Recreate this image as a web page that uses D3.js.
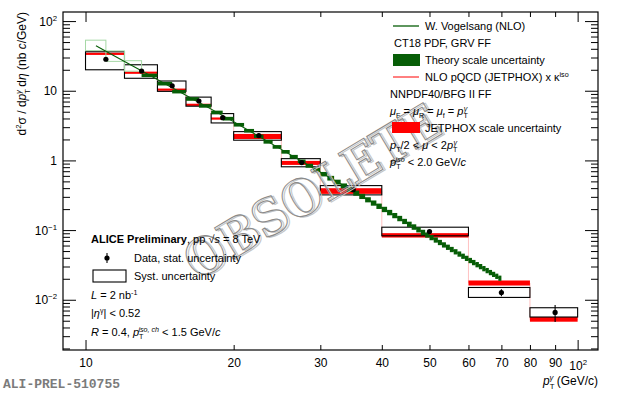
<!DOCTYPE html>
<html><head><meta charset="utf-8">
<script src="https://cdn.jsdelivr.net/npm/d3@7"></script>
<style>
html,body{margin:0;padding:0;background:#fff;}
svg{display:block;font-family:"Liberation Sans",Arial,sans-serif;}
</style></head>
<body><svg id="c" width="620" height="395"></svg>
<script>
// ---------- data ----------
const binLo = [10,12,14,16,18,20,25,30,40,60,80];
const binHi = [12,14,16,18,20,25,30,40,60,80,100];
const dataPt = [11,13,15,17,19,22.5,27.5,35,50,70,90];
const dataY = [28.3,19.2,11.8,7.1,4.1,2.27,0.93,0.38,0.0953,0.0127,0.00658];
const statErr = [0.5,0.3,0.15,0.08,0.05,0.03,0.012,0.006,0.003,0.0015,0.0018];
const systLo = [20.0,15.1,9.8,6.0,3.45,1.95,0.81,0.32,0.0828,0.0108,0.00565];
const systHi = [36.3,23.6,13.8,8.1,4.7,2.59,1.06,0.435,0.110,0.0150,0.00768];
const jpVal = [34,18.2,10.4,6.3,4.0,2.2,0.92,0.36,0.083,0.0174,0.0052];
const jpLo = [33.2,17.7,10.1,6.1,3.9,2.03,0.862,0.331,0.0782,0.0160,0.00484];
const jpHi = [35.0,18.7,10.7,6.5,4.1,2.40,0.984,0.399,0.0903,0.0189,0.00565];
// Vogelsang NLO, 1 GeV bins
const thPt = [10.5,11.5,12.5,13.5,14.5,15.5,16.5,17.5,18.5,19.5,20.5,21.5,22.5,23.5,24.5,25.5,26.5,27.5,28.5,29.5,
  30.5,31.5,32.5,33.5,34.5,35.5,36.5,37.5,38.5,39.5,40.5,41.5,42.5,43.5,44.5,45.5,46.5,47.5,48.5,49.5,
  50.5,51.5,52.5,53.5,54.5,55.5,56.5,57.5,58.5,59.5,60.5,61.5,62.5,63.5,64.5,65.5,66.5,67.5,68.5,69.5];
const thVal = [44.3,31.1,22.5,16.65,12.61,9.73,7.63,6.07,4.89,3.98,3.25,2.67,2.22,1.855,1.564,1.326,1.132,0.973,0.840,0.729,
  0.636,0.557,0.490,0.432,0.383,0.340,0.304,0.272,0.244,0.2196,0.1975,0.1782,0.1612,0.1463,0.1329,0.1211,0.1105,0.1011,0.0926,0.0850,
  0.0781,0.0720,0.0664,0.0613,0.0567,0.0526,0.0488,0.0453,0.0421,0.0393,0.0366,0.0342,0.0319,0.0299,0.0280,0.0262,0.0246,0.0231,0.0217,0.0204];
const thHi = [53.2,37.3,27.0,17.6,13.4,10.3,8.09,6.43,5.18,4.22,3.45,2.83,2.35,1.97,1.66,1.41,1.20,1.03,0.895,0.780,
  0.683,0.600,0.529,0.467,0.415,0.369,0.331,0.296,0.266,0.240,0.216,0.195,0.176,0.160,0.145,0.132,0.121,0.110,0.101,0.0927,
  0.0852,0.0786,0.0724,0.0668,0.0618,0.0574,0.0532,0.0494,0.0459,0.0428,0.0399,0.0373,0.0348,0.0326,0.0305,0.0286,0.0268,0.0252,0.0237,0.0222];
const thLo = [37.7,26.4,19.1,15.7,11.9,9.15,7.17,5.71,4.60,3.74,3.06,2.51,2.09,1.74,1.47,1.25,1.06,0.915,0.785,0.678,
  0.589,0.514,0.451,0.397,0.352,0.311,0.279,0.250,0.224,0.201,0.181,0.163,0.148,0.134,0.122,0.111,0.101,0.0926,0.0848,0.0778,
  0.0715,0.0660,0.0608,0.0561,0.0519,0.0482,0.0447,0.0415,0.0386,0.0360,0.0335,0.0313,0.0292,0.0274,0.0256,0.0240,0.0225,0.0212,0.0199,0.0187];
const xTicks = [10,20,30,40,50,60,70,80,90,100];
const yDecades = [0.01,0.1,1,10,100];

// ---------- layout ----------
const L=63,R=598,T=12,B=350;
const svg=d3.select("#c");
const x=d3.scaleLog().domain([9,110]).range([L,R]);
const y=d3.scaleLog().domain([0.0019,135]).range([B,T]);
const GREEN="#075e07", RED="#ff0000";

function rich(g,xp,yp,parts,size,anchor){
  const t=g.append("text").attr("x",xp).attr("y",yp).attr("font-size",size).attr("text-anchor",anchor||"start").attr("fill","#000");
  let cur=0;
  parts.forEach(p=>{
    const s=p[0],k=p[1]||"n",dx=p[2]||0;
    const tgt = k==="sup"?-size*0.4 : k==="sub"?size*0.3 : k==="isup"?-size*0.4 : 0;
    const ts=t.append("tspan").attr("dy",tgt-cur).text(s);
    cur=tgt;
    if(k==="sup"||k==="sub"||k==="isup") ts.attr("font-size",size*0.65);
    if(k==="i"||k==="isup") ts.attr("font-style","italic");
    if(k==="b") ts.attr("font-weight","bold");
    if(dx) ts.attr("dx",dx);
  });
  return t;
}

const plot=svg.append("g");
const clipId="clp";
svg.append("defs").append("clipPath").attr("id",clipId).append("rect").attr("x",L).attr("y",T).attr("width",R-L).attr("height",B-T);
const pg=plot.append("g").attr("clip-path","url(#"+clipId+")");

// JETPHOX thin histogram
let jpPath="";
binLo.forEach((lo,i)=>{
  const xl=x(lo),xh=x(binHi[i]),yy=y(jpVal[i]);
  jpPath += (i===0?"M":"L")+xl+","+yy+"L"+xh+","+yy;
});
pg.append("path").attr("d",jpPath).attr("fill","none").attr("stroke","#ffb3b3").attr("stroke-width",0.8);
// JETPHOX band
pg.selectAll("rect.jp").data(binLo).join("rect")
  .attr("x",d=>x(d)).attr("width",(d,i)=>x(binHi[i])-x(d))
  .attr("y",(d,i)=>Math.min(y(jpHi[i]), y(jpVal[i])-1))
  .attr("height",(d,i)=>Math.max(y(jpLo[i])-y(jpHi[i]),2.2))
  .attr("fill",RED);
// Syst boxes
pg.selectAll("rect.sy").data(binLo).join("rect")
  .attr("x",d=>x(d)).attr("width",(d,i)=>x(binHi[i])-x(d))
  .attr("y",(d,i)=>y(systHi[i])).attr("height",(d,i)=>y(systLo[i])-y(systHi[i]))
  .attr("fill","none").attr("stroke","#000").attr("stroke-width",1.1);
// Theory band
pg.selectAll("rect.th").data(thPt).join("rect")
  .attr("x",d=>x(d-0.5)).attr("width",d=>x(d+0.5)-x(d-0.5))
  .attr("y",(d,i)=>y(thHi[i])).attr("height",(d,i)=>y(thLo[i])-y(thHi[i]))
  .attr("fill",(d,i)=>i<3?"none":GREEN)
  .attr("stroke",(d,i)=>i<3?"#a5d8a5":"none").attr("stroke-width",1);
// Theory line
pg.append("path").datum(thPt).attr("fill","none").attr("stroke",GREEN).attr("stroke-width",1.1)
  .attr("d",d3.line().x(d=>x(d)).y((d,i)=>y(thVal[i])));
// Data
pg.selectAll("line.st").data(dataPt).join("line")
  .attr("x1",d=>x(d)).attr("x2",d=>x(d))
  .attr("y1",(d,i)=>y(dataY[i]+statErr[i])).attr("y2",(d,i)=>y(dataY[i]-statErr[i]))
  .attr("stroke","#000").attr("stroke-width",1.1);
pg.selectAll("circle.dt").data(dataPt).join("circle")
  .attr("cx",d=>x(d)).attr("cy",(d,i)=>y(dataY[i])).attr("r",2.6).attr("fill","#000");

// Watermark
const wm=svg.append("g").attr("transform","translate(312,192) rotate(-31)");
[[1.6,1.6,"#c4c4c4"],[0,0,"#8a8a8a"]].forEach(([dx,dy,c])=>{
  wm.append("text").attr("x",dx).attr("y",dy+17).attr("text-anchor","middle")
    .attr("font-family","DejaVu Serif").attr("font-weight","bold").attr("font-size",50)
    .attr("textLength",288).attr("lengthAdjust","spacingAndGlyphs")
    .attr("fill","none").attr("stroke",c).attr("stroke-width",1.1).text("OBSOLETE");
});

// ---------- axes ----------
const axB=svg.append("g").attr("transform",`translate(0,${B})`)
  .call(d3.axisBottom(x).tickValues(xTicks).tickSize(-5).tickPadding(8).tickFormat(d=>d===100?"":d));
axB.selectAll(".tick line").filter(d=>d===10||d===100).attr("y2",-10);
axB.selectAll(".tick text").attr("font-size",12).attr("font-family","Liberation Sans").attr("fill","#000");
axB.select(".domain").remove();
const t100=axB.selectAll(".tick").filter(d=>d===100);
rich(t100,0,20,[["10"],["2","sup"]],12,"middle");
const axT=svg.append("g").attr("transform",`translate(0,${T})`)
  .call(d3.axisTop(x).tickValues(xTicks).tickSize(-5).tickFormat(""));
axT.selectAll(".tick line").filter(d=>d===10||d===100).attr("y2",10);
axT.select(".domain").remove();

const yMinor=[];
[0.001,0.01,0.1,1,10,100].forEach(dec=>{for(let k=2;k<=9;k++){const v=dec*k; if(v>=0.0019&&v<=135) yMinor.push(+v.toPrecision(3));}});
const yAll=yDecades.concat(yMinor);
function yAxis(gen,xp,sign){
  const g=svg.append("g").attr("transform",`translate(${xp},0)`).call(gen(y).tickValues(yAll).tickSize(-7).tickFormat(""));
  g.selectAll(".tick line").filter(d=>yDecades.includes(d)).attr("x2",sign*13);
  g.select(".domain").remove();
  return g;
}
yAxis(d3.axisLeft,L,1);
yAxis(d3.axisRight,R,-1);
const expo={0.01:"-2",0.1:"-1",1:null,10:null,100:"2"};
yDecades.forEach(d=>{
  const yy=y(d)+4.5;
  if(d===1) rich(svg,57,yy,[["1"]],12,"end");
  else if(d===10) rich(svg,57,yy,[["10"]],12,"end");
  else rich(svg,57,yy,[["10"],[expo[d].replace("-","\u2212"),"sup"]],12,"end");
});

// frame
svg.append("rect").attr("x",L).attr("y",T).attr("width",R-L).attr("height",B-T).attr("fill","none").attr("stroke","#000").attr("stroke-width",1.2);

// axis titles
rich(svg,598,385,[["p","i"],["T","sub"],["\u03b3","isup",-5],[" (GeV/c)"]],12,"end");
const yt=svg.append("g").attr("transform","translate(26,12) rotate(-90)");
rich(yt,0,0,[["d"],["2","sup"],["\u03c3 / d"],["p","i"],["T","sub"],["\u03b3","isup",-5],[" d"],["\u03b7","i"],[" (nb "],["c","i"],["/GeV)"]],12,"end");

// ALI label
svg.append("text").attr("x",3).attr("y",388).attr("font-family","Liberation Mono").attr("font-weight","bold")
  .attr("font-size",13).attr("fill","#7b7b7b").text("ALI-PREL-510755");

// ---------- legend top-right ----------
const lg=svg.append("g");
lg.append("line").attr("x1",393).attr("x2",419).attr("y1",26).attr("y2",26).attr("stroke",GREEN).attr("stroke-width",1.3);
rich(lg,425,30,[["W. Vogelsang (NLO)"]],11);
rich(lg,394,47,[["CT18 PDF, GRV FF"]],11);
lg.append("rect").attr("x",393).attr("y",54).attr("width",27).attr("height",12).attr("fill",GREEN);
rich(lg,425,64,[["Theory scale uncertainty"]],11);
lg.append("line").attr("x1",393).attr("x2",419).attr("y1",77).attr("y2",77).attr("stroke",RED).attr("stroke-width",1);
rich(lg,425,81,[["NLO pQCD (JETPHOX) x \u03ba"],["iso","sup"]],11);
rich(lg,390,98,[["NNPDF40/BFG II FF"]],11);
rich(lg,390,115,[["\u03bc","i"],["F","sub"],[" = "],["\u03bc","i"],["R","sub"],[" = "],["\u03bc","i"],["f","sub"],[" = "],["p","i"],["T","sub"],["\u03b3","isup",-4]],11);
lg.append("rect").attr("x",392).attr("y",122).attr("width",28).attr("height",11).attr("fill",RED);
rich(lg,425,132,[["JETPHOX scale uncertainty"]],11);
rich(lg,390,149,[["p","i"],["T","sub"],["/2 < "],["\u03bc","i"],[" < 2"],["p","i"],["T","sub"],["\u03b3","isup",-4]],11);
rich(lg,390,166,[["p","i"],["T","sub"],["iso","isup",-5],[" < 2.0 GeV/"],["c","i"]],11);

// ---------- legend bottom-left ----------
const bl=svg.append("g");
rich(bl,91,243,[["ALICE Preliminary","b"],[", pp \u221a"],["s","i"],[" = 8 TeV"]],11);
bl.append("line").attr("x1",107).attr("x2",107).attr("y1",253).attr("y2",263).attr("stroke","#000").attr("stroke-width",1.1);
bl.append("circle").attr("cx",107).attr("cy",258).attr("r",2.6).attr("fill","#000");
rich(bl,134,262,[["Data, stat. uncertainty"]],11);
bl.append("rect").attr("x",93).attr("y",270).attr("width",33).attr("height",12).attr("fill","none").attr("stroke","#000").attr("stroke-width",1.1);
rich(bl,134,280,[["Syst. uncertainty"]],11);
rich(bl,91,299,[["L","i"],[" = 2 nb"],["-1","sup"]],11);
rich(bl,91,317,[["|"],["\u03b7","i"],["\u03b3","sup"],["| < 0.52"]],11);
rich(bl,91,336,[["R","i"],[" = 0.4, "],["p","i"],["T","sub"],["iso, ch","isup",-5],[" < 1.5 GeV/"],["c","i"]],11);
</script></body></html>
